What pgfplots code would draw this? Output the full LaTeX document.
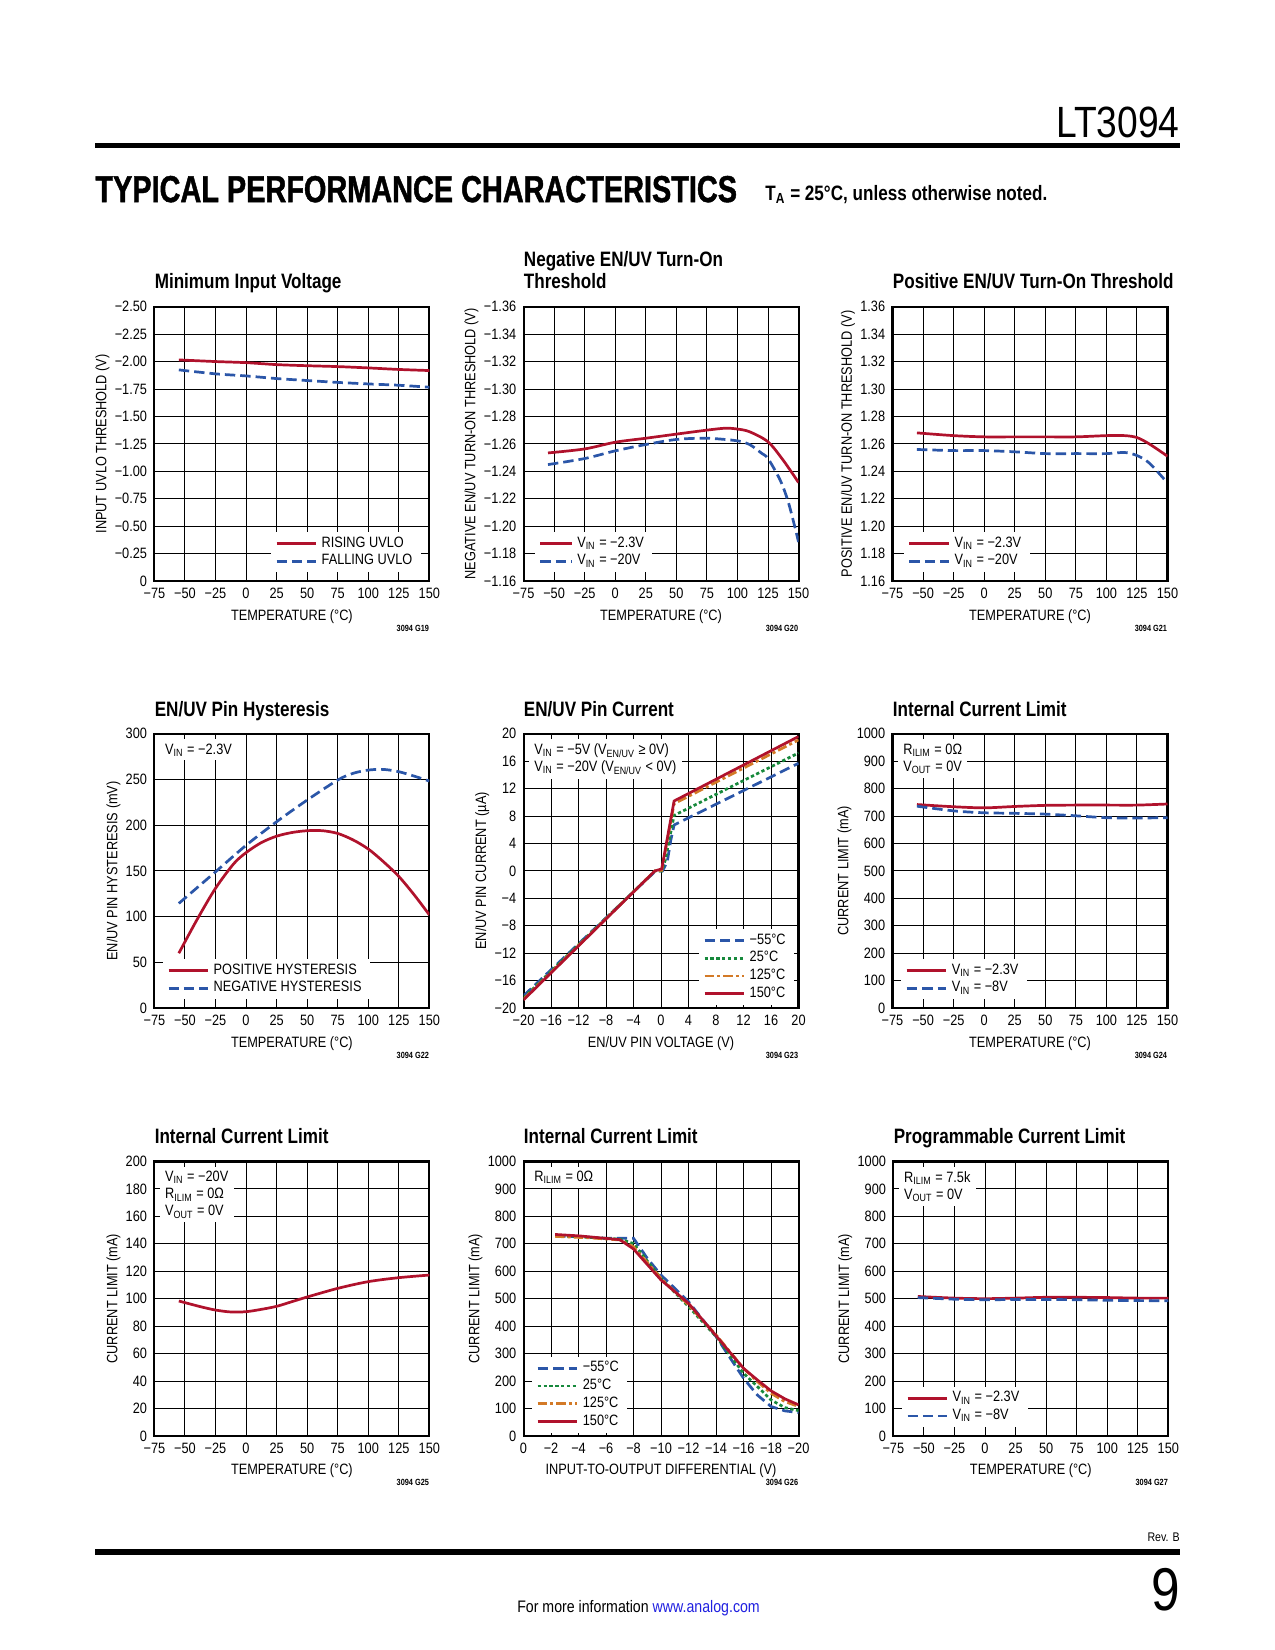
\documentclass[border=0pt]{standalone}
\usepackage{fontspec}
\setmainfont{Liberation Sans}[FakeStretch=0.85]
\newfontfamily\titlefont{Liberation Sans}[FakeStretch=0.82]
\newfontfamily\headfont{Liberation Sans}[FakeStretch=0.77, FakeBold=1.2]
\usepackage{pgfplots}
\pgfplotsset{compat=1.18}

\definecolor{ltred}{HTML}{B0122C}
\definecolor{ltblue}{HTML}{2B56A8}
\definecolor{ltgreen}{HTML}{17893C}
\definecolor{ltorange}{HTML}{D37A27}
\definecolor{linkblue}{HTML}{2020E0}

\newcommand\tk{\fontsize{7.2}{8.4}\selectfont}
\newcommand\annfont{\fontsize{7.2}{8.2}\selectfont}
\newcommand\ttlfont{\titlefont\bfseries\fontsize{10}{11}\selectfont}
\newcommand\gidfont{\titlefont\bfseries\fontsize{4.3}{5}\selectfont}

\tikzset{
  redl/.style={ltred, line width=1.3pt},
  bluel/.style={ltblue, line width=1.3pt, dash pattern=on 5pt off 2.4pt},
  greenl/.style={ltgreen, line width=1.3pt, dash pattern=on 1.6pt off 1.2pt},
  orangel/.style={ltorange, line width=1.3pt, dash pattern=on 4.5pt off 1.5pt on 1.5pt off 1.5pt},
  ttl/.style={anchor=base west, inner sep=0pt, font=\ttlfont, yshift=8.5pt},
  gid/.style={anchor=base east, inner sep=0pt, font=\gidfont, yshift=-24pt},
  ann/.style={anchor=north west, fill=white, inner xsep=2.5pt, inner ysep=2pt,
    align=left, font=\annfont, xshift=2.5pt, yshift=-2.5pt},
}

\pgfplotsset{
  legend image code/.code={\draw[#1] (0pt,0pt) -- (19pt,0pt);},
  lt/.style={
    scale only axis, width=132pt, height=131.7pt,
    clip mode=individual,
    axis line style={line width=1pt, black},
    grid=major, major grid style={line width=0.45pt, black},
    major tick length=0pt,
    tick label style={font=\tk},
    label style={font=\tk},
    xlabel shift=-2pt, ylabel shift=-4.3pt,
    legend style={draw=none, fill=white, font=\tk, inner xsep=2pt, inner ysep=1.5pt,
      row sep=0.8pt, nodes={inner ysep=0.6pt, inner xsep=2pt}},
    legend cell align=left,
  },
  temp/.style={xmin=-75, xmax=150,
    xtick={-75,-50,-25,0,25,50,75,100,125,150},
    xticklabels={−75,−50,−25,0,25,50,75,100,125,150},
    xlabel={TEMPERATURE (°C)}},
  ilim/.style={ymin=0, ymax=1000, ytick={0,100,...,1000},
    yticklabels={0,100,200,300,400,500,600,700,800,900,1000},
    ylabel={CURRENT LIMIT (mA)}},
}

\begin{document}
\begin{tikzpicture}
\useasboundingbox (0,0) rectangle (612pt,-792pt);

% header
\fill (45.6pt,-68.5pt) rectangle (566.4pt,-71.1pt);
\node[anchor=base east, inner sep=0pt, font=\fontsize{21}{21}\selectfont] at (566.4pt,-65.8pt) {LT3094};
\node[anchor=base west, inner sep=0pt, font=\headfont\bfseries\fontsize{18}{18}\selectfont] at (45.6pt,-97pt) {TYPICAL PERFORMANCE CHARACTERISTICS};
\node[anchor=base west, inner sep=0pt, font=\titlefont\bfseries\fontsize{10}{10}\selectfont] at (367.2pt,-96pt) {T\textsubscript{A} = 25°C, unless otherwise noted.};

% ---------- row 1 ----------
\begin{axis}[lt, temp, at={(74.1pt,-147.2pt)}, anchor=north west,
    y dir=reverse, ymin=-2.5, ymax=0,
    ytick={-2.5,-2.25,-2,-1.75,-1.5,-1.25,-1,-0.75,-0.5,-0.25,0},
    yticklabels={−2.50,−2.25,−2.00,−1.75,−1.50,−1.25,−1.00,−0.75,−0.50,−0.25,0},
    ylabel={INPUT UVLO THRESHOLD (V)},
    legend style={at={(0.97,0.03)}, anchor=south east}]
  \addplot[redl, smooth] coordinates {(-55,-2.015) (-25,-2.0) (0,-1.99) (25,-1.972) (50,-1.962) (75,-1.954) (100,-1.942) (125,-1.928) (150,-1.918)};
  \addplot[bluel, smooth] coordinates {(-55,-1.924) (-25,-1.888) (0,-1.869) (25,-1.845) (50,-1.827) (75,-1.81) (100,-1.796) (125,-1.784) (150,-1.766)};
  \legend{RISING UVLO, FALLING UVLO}
  \node[ttl] at (axis description cs:0,1) {Minimum Input Voltage};
  \node[gid] at (axis description cs:1,0) {3094 G19};
\end{axis}

\begin{axis}[lt, temp, at={(251.3pt,-147.2pt)}, anchor=north west,
    y dir=reverse, ymin=-1.36, ymax=-1.16,
    ytick={-1.36,-1.34,-1.32,-1.30,-1.28,-1.26,-1.24,-1.22,-1.20,-1.18,-1.16},
    yticklabels={−1.36,−1.34,−1.32,−1.30,−1.28,−1.26,−1.24,−1.22,−1.20,−1.18,−1.16},
    ylabel={NEGATIVE EN/UV TURN-ON THRESHOLD (V)},
    legend image code/.code={\draw[#1] (0pt,0pt) -- (15pt,0pt);},
    legend style={at={(0.04,0.03)}, anchor=south west}]
  \addplot[redl, smooth] coordinates {(-55,-1.2534) (-25,-1.2563) (0,-1.2612) (25,-1.2641) (50,-1.2671) (75,-1.270) (90,-1.2714) (100,-1.2708) (110,-1.2688) (125,-1.2615) (137.5,-1.248) (150,-1.2318)};
  \addplot[bluel, smooth] coordinates {(-55,-1.2449) (-25,-1.2493) (0,-1.2549) (25,-1.2595) (50,-1.2632) (75,-1.2641) (100,-1.2622) (110,-1.2595) (120,-1.253) (125,-1.2493) (135,-1.2335) (142,-1.2164) (150,-1.1885)};
  \legend{V\textsubscript{IN} = −2.3V, V\textsubscript{IN} = −20V}
  \node[ttl, yshift=11pt] at (axis description cs:0,1) {Negative EN/UV Turn-On};
  \node[ttl] at (axis description cs:0,1) {Threshold};
  \node[gid] at (axis description cs:1,0) {3094 G20};
\end{axis}

\begin{axis}[lt, temp, at={(428.4pt,-147.2pt)}, anchor=north west,
    ymin=1.16, ymax=1.36,
    ytick={1.16,1.18,1.20,1.22,1.24,1.26,1.28,1.30,1.32,1.34,1.36},
    yticklabels={1.16,1.18,1.20,1.22,1.24,1.26,1.28,1.30,1.32,1.34,1.36},
    ylabel={POSITIVE EN/UV TURN-ON THRESHOLD (V)},
    legend style={at={(0.04,0.03)}, anchor=south west}]
  \addplot[redl, smooth] coordinates {(-55,1.268) (-25,1.266) (0,1.2651) (25,1.2651) (50,1.2651) (75,1.2651) (100,1.266) (115,1.266) (125,1.2646) (135,1.260) (150,1.251)};
  \addplot[bluel, smooth] coordinates {(-55,1.2559) (-25,1.2551) (0,1.2551) (25,1.2542) (50,1.2529) (75,1.2529) (100,1.2529) (115,1.2537) (125,1.2515) (135,1.2461) (150,1.2315)};
  \legend{V\textsubscript{IN} = −2.3V, V\textsubscript{IN} = −20V}
  \node[ttl] at (axis description cs:0,1) {Positive EN/UV Turn-On Threshold};
  \node[gid] at (axis description cs:1,0) {3094 G21};
\end{axis}

% ---------- row 2 ----------
\begin{axis}[lt, temp, at={(74.1pt,-352.2pt)}, anchor=north west,
    ymin=0, ymax=300, ytick={0,50,...,300},
    yticklabels={0,50,100,150,200,250,300},
    ylabel={EN/UV PIN HYSTERESIS (mV)},
    legend style={at={(0.03,0.03)}, anchor=south west}]
  \addplot[redl, smooth] coordinates {(-55,60) (-40,97) (-25,131) (-10,158) (0,170) (12.5,181) (25,188) (37.5,192) (50,194) (62.5,194) (75,191) (87.5,184) (100,174) (112.5,160) (125,144) (137.5,124) (150,102)};
  \addplot[bluel, smooth] coordinates {(-55,114.5) (-25,149) (0,178) (25,203.8) (50,227.5) (75,249.4) (87.5,256.7) (100,260.3) (112.5,261) (125,258.5) (137.5,253.7) (150,248.3)};
  \legend{POSITIVE HYSTERESIS, NEGATIVE HYSTERESIS}
  \node[ann] at (axis description cs:0,1) {V\textsubscript{IN} = −2.3V};
  \node[ttl] at (axis description cs:0,1) {EN/UV Pin Hysteresis};
  \node[gid] at (axis description cs:1,0) {3094 G22};
\end{axis}

\begin{axis}[lt, at={(251.3pt,-352.2pt)}, anchor=north west,
    xmin=-20, xmax=20, xtick={-20,-16,...,20},
    xticklabels={−20,−16,−12,−8,−4,0,4,8,12,16,20},
    ymin=-20, ymax=20, ytick={-20,-16,...,20},
    yticklabels={−20,−16,−12,−8,−4,0,4,8,12,16,20},
    xlabel={EN/UV PIN VOLTAGE (V)}, ylabel={EN/UV PIN CURRENT (µA)},
    legend style={at={(0.985,0.01)}, anchor=south east}]
  \addplot[bluel] coordinates {(-20,-18.2) (-1.2,-0.4) (-0.9,-0.05) (0.2,0) (0.9,1.3) (1.4,4.4) (1.9,6.7) (20,15.7)};
  \addplot[greenl] coordinates {(-20,-18.5) (-1.1,-0.2) (-0.9,0) (0.1,0) (0.6,1.5) (1.9,8.1) (20,17.2)};
  \addplot[orangel] coordinates {(-20,-18.7) (-1.1,-0.2) (-0.9,0) (0.1,0.1) (1.9,9.8) (20,19.1)};
  \addplot[redl] coordinates {(-20,-18.8) (-1.1,-0.2) (-0.9,0) (0.1,0.3) (1.9,10.2) (20,19.6)};
  \legend{−55°C, 25°C, 125°C, 150°C}
  \node[ann] at (axis description cs:0,1) {V\textsubscript{IN} = −5V (V\textsubscript{EN/UV} ≥ 0V)\\V\textsubscript{IN} = −20V (V\textsubscript{EN/UV} < 0V)};
  \node[ttl] at (axis description cs:0,1) {EN/UV Pin Current};
  \node[gid] at (axis description cs:1,0) {3094 G23};
\end{axis}

\begin{axis}[lt, temp, ilim, at={(428.4pt,-352.2pt)}, anchor=north west,
    legend style={at={(0.03,0.03)}, anchor=south west}]
  \addplot[redl, smooth] coordinates {(-55,742) (-25,734) (0,730) (25,735) (50,739) (75,740) (100,740) (125,740) (150,744)};
  \addplot[bluel, smooth] coordinates {(-55,736) (-25,719) (0,712) (25,710) (50,707) (75,701) (100,694) (125,693) (150,694)};
  \legend{V\textsubscript{IN} = −2.3V, V\textsubscript{IN} = −8V}
  \node[ann] at (axis description cs:0,1) {R\textsubscript{ILIM} = 0Ω\\V\textsubscript{OUT} = 0V};
  \node[ttl] at (axis description cs:0,1) {Internal Current Limit};
  \node[gid] at (axis description cs:1,0) {3094 G24};
\end{axis}

% ---------- row 3 ----------
\begin{axis}[lt, temp, at={(74.1pt,-557.5pt)}, anchor=north west,
    ymin=0, ymax=200, ytick={0,20,...,200},
    yticklabels={0,20,40,60,80,100,120,140,160,180,200},
    ylabel={CURRENT LIMIT (mA)}]
  \addplot[redl, smooth] coordinates {(-55,98.3) (-37.5,94.2) (-25,91.7) (-12.5,90.3) (0,90.5) (12.5,92.2) (25,94.4) (37.5,97.8) (50,101.2) (75,107.5) (100,112.4) (125,115.3) (150,117.2)};
  \node[ann] at (axis description cs:0,1) {V\textsubscript{IN} = −20V\\R\textsubscript{ILIM} = 0Ω\\V\textsubscript{OUT} = 0V};
  \node[ttl] at (axis description cs:0,1) {Internal Current Limit};
  \node[gid] at (axis description cs:1,0) {3094 G25};
\end{axis}

\begin{axis}[lt, ilim, at={(251.3pt,-557.5pt)}, anchor=north west,
    x dir=reverse, xmin=-20, xmax=0,
    xtick={-20,-18,-16,-14,-12,-10,-8,-6,-4,-2,0},
    xticklabels={−20,−18,−16,−14,−12,−10,−8,−6,−4,−2,0},
    xlabel={INPUT-TO-OUTPUT DIFFERENTIAL (V)},
    legend style={at={(0.03,0.01)}, anchor=south west}]
  \addplot[bluel] coordinates {(-2.3,729) (-4,726) (-6,720) (-8,720) (-9,647) (-10,586) (-12,489) (-14,362) (-16,210) (-17,149) (-18,107) (-19,91) (-20,85)};
  \addplot[greenl] coordinates {(-2.3,729) (-5,723) (-7,717) (-8,701) (-10,574) (-12,471) (-14,362) (-16,228) (-17,180) (-18,131) (-19,103) (-20,92)};
  \addplot[orangel] coordinates {(-2.3,727) (-5,721) (-7,714) (-8,689) (-10,574) (-12,477) (-14,368) (-16,246) (-17,198) (-18,155) (-19,125) (-20,107)};
  \addplot[redl] coordinates {(-2.3,734) (-4,729) (-7,715) (-8,681) (-10,568) (-12,483) (-14,365) (-15,305) (-16,246) (-17,204) (-18,164) (-19,135) (-20,113)};
  \legend{−55°C, 25°C, 125°C, 150°C}
  \node[ann] at (axis description cs:0,1) {R\textsubscript{ILIM} = 0Ω};
  \node[ttl] at (axis description cs:0,1) {Internal Current Limit};
  \node[gid] at (axis description cs:1,0) {3094 G26};
\end{axis}

\begin{axis}[lt, temp, ilim, at={(428.8pt,-557.5pt)}, anchor=north west,
    legend style={at={(0.03,0.03)}, anchor=south west}]
  \addplot[redl, smooth] coordinates {(-55,508) (-25,502) (0,500) (25,502) (50,505) (75,505) (100,504) (125,502) (150,502)};
  \addplot[bluel, smooth] coordinates {(-55,504) (-25,498) (0,496) (25,497) (50,497) (75,496) (100,494) (125,493) (150,492)};
  \legend{V\textsubscript{IN} = −2.3V, V\textsubscript{IN} = −8V}
  \node[ann] at (axis description cs:0,1) {R\textsubscript{ILIM} = 7.5k\\V\textsubscript{OUT} = 0V};
  \node[ttl] at (axis description cs:0,1) {Programmable Current Limit};
  \node[gid] at (axis description cs:1,0) {3094 G27};
\end{axis}

% footer
\node[anchor=base east, inner sep=0pt, font=\fontsize{6}{6}\selectfont] at (566.4pt,-739.7pt) {Rev. B};
\fill (45.6pt,-743.7pt) rectangle (566.4pt,-746.3pt);
\node[anchor=base east, inner sep=0pt, font=\fontsize{29}{29}\selectfont] at (566.4pt,-772.8pt) {9};
\node[anchor=base, inner sep=0pt, font=\fontsize{8}{8}\selectfont] at (306.5pt,-773.8pt) {For more information \textcolor{linkblue}{www.analog.com}};
\end{tikzpicture}
\end{document}
